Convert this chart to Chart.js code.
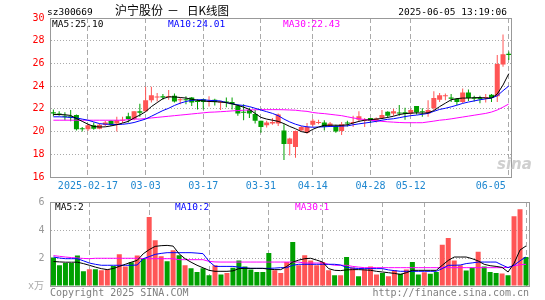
<!DOCTYPE html>
<html>
<head>
<meta charset="utf-8">
<script src="https://cdn.jsdelivr.net/npm/chart.js@4/dist/chart.umd.min.js"></script>
<style>
    html, body { margin: 0; padding: 0; background: #fff; }
    #wrap { position: relative; width: 545px; height: 300px; overflow: hidden; }
    canvas { position: absolute; left: 0; }
    #kline { top: 0; }
    #vol { top: 190px; }
</style>
</head>
<body>
<div id="wrap">
    <canvas id="kline" width="545" height="190"></canvas>
    <canvas id="vol" width="545" height="110"></canvas>
</div>
<script>
// 日付（取引日）
const dates = [
    '2025-02-07',
    '2025-02-10', '2025-02-11', '2025-02-12', '2025-02-13', '2025-02-14',
    '2025-02-17', '2025-02-18', '2025-02-19', '2025-02-20', '2025-02-21',
    '2025-02-24', '2025-02-25', '2025-02-26', '2025-02-27', '2025-02-28',
    '2025-03-03', '2025-03-04', '2025-03-05', '2025-03-06', '2025-03-07',
    '2025-03-10', '2025-03-11', '2025-03-12', '2025-03-13', '2025-03-14',
    '2025-03-17', '2025-03-18', '2025-03-19', '2025-03-20', '2025-03-21',
    '2025-03-24', '2025-03-25', '2025-03-26', '2025-03-27', '2025-03-28',
    '2025-03-31', '2025-04-01', '2025-04-02', '2025-04-03',
    '2025-04-07', '2025-04-08', '2025-04-09', '2025-04-10', '2025-04-11',
    '2025-04-14', '2025-04-15', '2025-04-16', '2025-04-17', '2025-04-18',
    '2025-04-21', '2025-04-22', '2025-04-23', '2025-04-24', '2025-04-25',
    '2025-04-28', '2025-04-29', '2025-04-30',
    '2025-05-06', '2025-05-07', '2025-05-08', '2025-05-09',
    '2025-05-12', '2025-05-13', '2025-05-14', '2025-05-15', '2025-05-16',
    '2025-05-19', '2025-05-20', '2025-05-21', '2025-05-22', '2025-05-23',
    '2025-05-26', '2025-05-27', '2025-05-28', '2025-05-29', '2025-05-30',
    '2025-06-03', '2025-06-04', '2025-06-05'
];

// 目盛りに出す日付とその表示（最後の一つは枠内に収めるため右寄せ）
const tickDates = ['2025-02-17', '2025-03-03', '2025-03-17', '2025-03-31', '2025-04-14', '2025-04-28', '2025-05-12', '2025-06-05'];
const tickLabels = ['2025-02-17', '03-03', '03-17', '03-31', '04-14', '04-28', '05-12', '06-05      '];

// 四本値
const opens = [
    21.7, 21.6, 21.4, 21.35, 21.45, 20.25, 20.2, 20.55, 20.25, 20.6,
    20.95, 20.7, 20.95, 21.35, 21.1, 21.8, 21.8, 22.75, 23.0, 23.1,
    23.05, 23.15, 22.75, 22.85, 23.0, 22.7, 22.85, 22.6, 22.8, 22.55,
    22.65, 22.6, 22.3, 21.75, 21.9, 21.55, 20.95, 20.55, 20.7, 20.7,
    20.1, 18.9, 18.65, 20.1, 19.9, 20.6, 20.75, 20.8, 20.45, 20.5,
    20.05, 20.75, 20.75, 21.05, 20.95, 21.2, 20.95, 21.2, 21.75, 21.6,
    21.65, 21.7, 21.6, 22.25, 21.8, 21.6, 22.05, 22.8, 23.1, 23.0,
    22.9, 22.6, 23.45, 23.0, 22.95, 22.95, 23.25, 23.1, 25.9, 26.85
];
const highs = [
    21.95, 21.8, 21.7, 21.9, 21.5, 20.4, 20.65, 20.8, 20.7, 20.95,
    21.0, 21.3, 21.3, 21.65, 21.8, 22.45, 23.95, 23.95, 23.4, 23.3,
    23.65, 23.35, 22.95, 23.1, 23.05, 22.85, 22.9, 23.1, 22.9, 22.7,
    23.0, 23.0, 22.4, 22.4, 22.1, 21.9, 20.95, 20.95, 21.2, 21.6,
    20.65, 19.45, 20.1, 20.5, 20.75, 21.1, 21.05, 21.0, 20.85, 20.6,
    20.85, 20.95, 21.4, 21.8, 21.2, 21.2, 21.25, 21.9, 21.8, 22.0,
    22.35, 22.1, 22.0, 22.25, 22.05, 22.75, 23.55, 23.4, 23.35, 23.3,
    22.95, 23.8, 23.7, 23.15, 23.15, 23.3, 23.3, 26.75, 28.55, 27.05
];
const lows = [
    21.35, 21.4, 21.0, 20.9, 20.1, 20.0, 20.05, 20.15, 20.2, 20.5,
    20.5, 20.0, 20.75, 20.8, 21.0, 21.3, 21.75, 22.55, 22.65, 22.8,
    22.8, 22.55, 22.4, 22.4, 22.25, 21.95, 21.95, 22.2, 22.3, 21.9,
    22.15, 21.95, 21.4, 21.0, 21.2, 20.7, 19.9, 20.35, 20.6, 20.5,
    17.5, 17.9, 17.7, 20.0, 19.8, 20.45, 20.65, 20.1, 20.4, 19.9,
    19.7, 20.45, 20.4, 20.85, 20.4, 20.75, 20.8, 21.1, 21.2, 21.4,
    21.4, 21.05, 21.5, 21.5, 21.3, 21.3, 21.9, 22.6, 22.75, 22.6,
    22.35, 22.5, 22.7, 22.65, 22.5, 22.55, 22.6, 22.6, 25.7, 26.3
];
const closes = [
    21.6, 21.5, 21.3, 21.25, 20.2, 20.2, 20.55, 20.25, 20.6, 20.8,
    20.6, 21.0, 21.05, 21.1, 21.8, 21.65, 22.75, 23.2, 23.05, 23.0,
    23.1, 22.65, 22.85, 22.75, 22.55, 22.6, 22.6, 22.65, 22.6, 22.6,
    22.55, 22.4, 21.6, 21.65, 21.6, 20.95, 20.4, 20.8, 20.85, 21.5,
    18.9, 19.4, 20.05, 20.4, 20.4, 20.95, 20.85, 20.4, 20.7, 20.0,
    20.65, 20.7, 20.85, 21.35, 21.05, 20.95, 21.15, 21.45, 21.4, 21.8,
    21.6, 21.55, 21.9, 21.7, 21.7, 21.9, 22.95, 23.2, 23.15, 22.9,
    22.6, 23.45, 22.95, 22.9, 22.85, 23.0, 22.95, 25.95, 26.8, 26.75
];

// 価格の移動平均
const ma5 = [
    21.5, 21.5, 21.48, 21.42, 21.15, 20.9, 20.65, 20.45, 20.4, 20.42,
    20.5, 20.6, 20.75, 20.9, 21.2, 21.45, 21.75, 22.2, 22.55, 22.9,
    23.05, 23.05, 23.0, 22.95, 22.85, 22.75, 22.7, 22.65, 22.63, 22.6,
    22.55, 22.45, 22.3, 22.15, 21.95, 21.6, 21.25, 21.1, 21.0, 20.9,
    20.7, 20.45, 20.25, 20.0, 19.9, 20.2, 20.4, 20.55, 20.56, 20.56,
    20.55, 20.6, 20.75, 20.9, 21.0, 21.05, 21.1, 21.15, 21.25, 21.35,
    21.5, 21.58, 21.62, 21.65, 21.62, 21.65, 21.85, 22.2, 22.5, 22.8,
    22.9, 22.95, 22.95, 22.98, 23.0, 22.95, 22.95, 23.3, 24.1, 25.1
];
const ma10 = [
    21.3, 21.3, 21.28, 21.25, 21.2, 21.1, 21.0, 20.85, 20.7, 20.65,
    20.64, 20.62, 20.64, 20.7, 20.8, 20.95, 21.1, 21.35, 21.6, 21.85,
    22.05, 22.3, 22.5, 22.65, 22.75, 22.8, 22.8, 22.75, 22.72, 22.7,
    22.55, 22.45, 22.35, 22.3, 22.2, 22.05, 21.9, 21.75, 21.6, 21.4,
    21.1, 20.85, 20.65, 20.5, 20.42, 20.38, 20.4, 20.42, 20.45, 20.46,
    20.48, 20.5, 20.6, 20.68, 20.75, 20.82, 20.9, 21.0, 21.08, 21.13,
    21.22, 21.32, 21.4, 21.45, 21.52, 21.6, 21.78, 21.95, 22.05, 22.18,
    22.32, 22.48, 22.6, 22.7, 22.8, 22.88, 22.95, 23.15, 23.6, 24.01
];
const ma30 = [
    21.0, 21.0, 21.0, 21.0, 21.0, 21.0, 21.0, 21.0, 21.0, 21.0,
    21.0, 21.0, 21.0, 21.05, 21.1, 21.1, 21.15, 21.2, 21.25, 21.3,
    21.35, 21.4, 21.45, 21.5, 21.55, 21.6, 21.65, 21.7, 21.72, 21.75,
    21.78, 21.82, 21.85, 21.88, 21.9, 21.92, 21.93, 21.93, 21.93, 21.93,
    21.92, 21.9, 21.88, 21.82, 21.78, 21.68, 21.62, 21.58, 21.52, 21.46,
    21.4, 21.3, 21.2, 21.12, 21.06, 21.0, 20.95, 20.9, 20.86, 20.83,
    20.8, 20.78, 20.78, 20.78, 20.78, 20.85, 20.92, 21.0, 21.05, 21.12,
    21.2, 21.28, 21.36, 21.44, 21.52, 21.6, 21.72, 21.9, 22.15, 22.43
];

// 出来高（万）と移動平均
const volumes = [
    2.03, 1.48, 1.64, 1.64, 2.17, 1.05, 1.19, 1.19, 1.12, 1.2,
    1.43, 2.26, 1.4, 1.69, 2.17, 1.95, 4.93, 3.26, 2.12, 1.76,
    2.55, 2.19, 1.48, 1.26, 1.0, 1.26, 0.76, 1.48, 0.83, 0.93,
    1.31, 1.83, 1.4, 1.17, 1.0, 1.0, 2.36, 1.12, 0.93, 1.71,
    3.14, 1.48, 2.19, 1.83, 1.48, 1.71, 1.12, 0.76, 0.76, 2.07,
    1.33, 0.69, 1.17, 1.4, 0.83, 0.93, 0.69, 1.12, 0.88, 1.17,
    1.71, 0.83, 0.98, 0.88, 1.0, 2.95, 3.43, 1.83, 1.48, 1.1,
    1.31, 2.45, 1.4, 1.0, 0.93, 0.9, 0.76, 4.98, 5.48, 2.07
];
const vma5 = [
    1.75, 1.72, 1.7, 1.7, 1.7, 1.6, 1.48, 1.35, 1.24, 1.17,
    1.25, 1.4, 1.55, 1.7, 1.83, 2.3, 2.6, 2.83, 2.88, 2.9,
    2.85, 2.3, 1.95, 1.7, 1.48, 1.3, 1.12, 1.05, 1.05, 1.05,
    1.08, 1.24, 1.26, 1.26, 1.26, 1.26, 1.2, 1.17, 1.17, 1.4,
    1.71, 1.85, 1.95, 1.98, 1.85, 1.71, 1.24, 1.12, 1.1, 1.15,
    1.17, 1.17, 1.15, 1.12, 1.05, 1.0, 0.95, 0.9, 0.83, 0.95,
    1.12, 1.12, 1.12, 1.12, 1.12, 1.48, 1.83, 2.07, 2.07, 2.07,
    1.95, 1.79, 1.55, 1.45, 1.4, 1.33, 1.0, 1.62, 2.57, 2.86
];
const vma10 = [
    2.07, 2.0, 1.95, 1.95, 1.95, 1.8, 1.64, 1.55, 1.48, 1.48,
    1.48, 1.48, 1.48, 1.48, 1.5, 1.95, 2.1, 2.26, 2.33, 2.38,
    2.38, 2.38, 2.38, 2.38, 2.35, 2.31, 1.76, 1.4, 1.4, 1.4,
    1.4, 1.35, 1.3, 1.26, 1.26, 1.26, 1.26, 1.28, 1.31, 1.31,
    1.48, 1.55, 1.55, 1.55, 1.55, 1.55, 1.55, 1.55, 1.5, 1.33,
    1.28, 1.25, 1.24, 1.24, 1.24, 1.24, 1.15, 1.1, 1.05, 1.05,
    1.05, 1.05, 1.05, 1.05, 1.05, 1.24, 1.48, 1.48, 1.5, 1.6,
    1.65, 1.71, 1.71, 1.71, 1.71, 1.5, 1.31, 1.48, 1.8, 2.07
];
const vma30 = [
    2.17, 2.12, 2.07, 2.03, 2.0, 1.97, 1.95, 1.98, 1.98, 1.98,
    1.98, 1.98, 1.98, 1.98, 1.98, 1.96, 1.95, 1.95, 1.95, 1.95,
    1.95, 1.88, 1.88, 1.88, 1.88, 1.88, 1.76, 1.72, 1.71, 1.71,
    1.71, 1.71, 1.71, 1.71, 1.71, 1.71, 1.71, 1.71, 1.71, 1.71,
    1.71, 1.71, 1.64, 1.64, 1.64, 1.64, 1.55, 1.48, 1.48, 1.48,
    1.4, 1.35, 1.31, 1.31, 1.31, 1.31, 1.31, 1.31, 1.31, 1.31,
    1.31, 1.31, 1.31, 1.31, 1.31, 1.31, 1.31, 1.31, 1.31, 1.31,
    1.31, 1.31, 1.31, 1.31, 1.31, 1.31, 1.33, 1.45, 1.52, 1.55
];

const MONO = "'DejaVu Sans Mono', 'Liberation Mono', monospace";
const CJK = "'Noto Sans CJK SC', sans-serif";
const RED = '#ff5555';
const GREEN = '#00a000';
const GRID = '#aaaaaa';

const candleColors = dates.map((d, i) => closes[i] >= opens[i] ? RED : GREEN);
const isTick = i => tickDates.indexOf(dates[i]) >= 0;

// 枠線
const framePlugin = {
    id: 'frame',
    afterDatasetsDraw(chart) {
        const a = chart.chartArea;
        const ctx = chart.ctx;
        const l = Math.floor(a.left) + 0.5, t = Math.floor(a.top) + 0.5;
        const r = Math.floor(a.right) + 0.5, b = Math.floor(a.bottom) + 0.5;
        ctx.save();
        ctx.strokeStyle = '#999';
        ctx.lineWidth = 1;
        ctx.strokeRect(l, t, r - l, b - t);
        ctx.restore();
    }
};

// 文字
const textPlugin = {
    id: 'texts',
    afterDraw(chart, args, opts) {
        const ctx = chart.ctx;
        ctx.save();
        ctx.textBaseline = 'alphabetic';
        opts.items.forEach(t => {
            ctx.font = t.font;
            ctx.fillStyle = t.color;
            ctx.textAlign = t.align || 'left';
            ctx.fillText(t.text, t.x, t.y);
        });
        ctx.restore();
    }
};

const xGrid = {
    offset: false,
    drawTicks: false,
    color: ctx => isTick(ctx.index) ? GRID : 'rgba(0,0,0,0)'
};

// ローソク足チャート
new Chart(document.getElementById('kline'), {
    type: 'bar',
    data: {
        labels: dates,
        datasets: [
            { type: 'line', data: ma5, borderColor: '#000', borderWidth: 1, pointRadius: 0, order: 0 },
            { type: 'line', data: ma10, borderColor: '#0000ff', borderWidth: 1, pointRadius: 0, order: 0 },
            { type: 'line', data: ma30, borderColor: '#ff00ff', borderWidth: 1, pointRadius: 0, order: 0 },
            {
                data: dates.map((d, i) => [opens[i], closes[i]]),
                backgroundColor: candleColors,
                barThickness: 5, minBarLength: 1, grouped: false, inflateAmount: 0, order: 1
            },
            {
                data: dates.map((d, i) => [lows[i], highs[i]]),
                backgroundColor: candleColors,
                barThickness: 1, grouped: false, inflateAmount: 0, order: 2
            }
        ]
    },
    options: {
        responsive: false,
        animation: false,
        devicePixelRatio: 1,
        layout: { padding: { top: 18, right: 16, left: 0, bottom: 0 } },
        scales: {
            x: {
                offset: true,
                afterFit: s => { s.height = 13; },
                ticks: {
                    autoSkip: false, maxRotation: 0, minRotation: 0,
                    color: '#2088d0', font: { family: MONO, size: 10 }, padding: 3,
                    callback: (v, i) => {
                        const k = tickDates.indexOf(dates[i]);
                        return k >= 0 ? tickLabels[k] : '';
                    }
                },
                grid: xGrid,
                border: { display: false, dash: [5, 3] }
            },
            y: {
                min: 16, max: 30,
                afterFit: s => { s.width = 50.5; },
                ticks: { stepSize: 2, color: '#ff0000', font: { family: MONO, size: 10 }, padding: 6 },
                grid: { drawTicks: false, color: GRID },
                border: { display: false, dash: [1, 2] }
            }
        },
        plugins: {
            legend: { display: false },
            tooltip: { enabled: false },
            texts: {
                items: [
                    { text: 'sz300669', x: 47, y: 15, font: '9.5px ' + MONO, color: '#000' },
                    { text: '沪宁股份', x: 115, y: 15, font: '12px ' + CJK, color: '#000' },
                    { text: '－', x: 167, y: 15, font: '12px ' + CJK, color: '#000' },
                    { text: '日K线图', x: 187, y: 15, font: '11.5px ' + CJK, color: '#000' },
                    { text: '2025-06-05 13:19:06', x: 507, y: 15, align: 'right', font: '9.5px ' + MONO, color: '#000' },
                    { text: 'MA5:25.10', x: 52, y: 27, font: '9.5px ' + MONO, color: '#000' },
                    { text: 'MA10:24.01', x: 168, y: 27, font: '9.5px ' + MONO, color: '#0000ff' },
                    { text: 'MA30:22.43', x: 283, y: 27, font: '9.5px ' + MONO, color: '#ff00ff' },
                    { text: 'sina', x: 497, y: 169, font: 'italic bold 15px DejaVu Sans', color: '#cfcfcf' }
                ]
            }
        }
    },
    plugins: [framePlugin, textPlugin]
});

// 出来高チャート
new Chart(document.getElementById('vol'), {
    type: 'bar',
    data: {
        labels: dates,
        datasets: [
            { type: 'line', data: vma5, borderColor: '#000', borderWidth: 1, pointRadius: 0, order: 0 },
            { type: 'line', data: vma10, borderColor: '#0000ff', borderWidth: 1, pointRadius: 0, order: 0 },
            { type: 'line', data: vma30, borderColor: '#ff00ff', borderWidth: 1, pointRadius: 0, order: 0 },
            {
                data: volumes,
                backgroundColor: candleColors,
                barThickness: 5, grouped: false, inflateAmount: 0, order: 1
            }
        ]
    },
    options: {
        responsive: false,
        animation: false,
        devicePixelRatio: 1,
        layout: { padding: { top: 12, right: 16, left: 0, bottom: 0 } },
        scales: {
            x: {
                offset: true,
                afterFit: s => { s.height = 14; },
                ticks: { display: false },
                grid: xGrid,
                border: { display: false, dash: [5, 3] }
            },
            y: {
                min: 0, max: 6,
                afterFit: s => { s.width = 50.5; },
                ticks: {
                    stepSize: 2, color: '#999', font: { family: MONO, size: 10 }, padding: 6,
                    callback: v => v === 0 ? '' : v
                },
                grid: { drawTicks: false, color: GRID },
                border: { display: false, dash: [1, 2] }
            }
        },
        plugins: {
            legend: { display: false },
            tooltip: { enabled: false },
            texts: {
                items: [
                    { text: 'MA5:2', x: 55, y: 20, font: '9.5px ' + MONO, color: '#000' },
                    { text: 'MA10:2', x: 175, y: 20, font: '9.5px ' + MONO, color: '#0000ff' },
                    { text: 'MA30:1', x: 295, y: 20, font: '9.5px ' + MONO, color: '#ff00ff' },
                    { text: 'x万', x: 44, y: 99, align: 'right', font: '10px ' + MONO + ', ' + CJK, color: '#aaa' },
                    { text: 'Copyright 2025 SINA.COM', x: 50, y: 105.5, font: '10px ' + MONO, color: '#808080' },
                    { text: 'http://finance.sina.com.cn', x: 529, y: 105.5, align: 'right', font: '10px ' + MONO, color: '#808080' }
                ]
            }
        }
    },
    plugins: [framePlugin, textPlugin]
});
</script>
</body>
</html>
